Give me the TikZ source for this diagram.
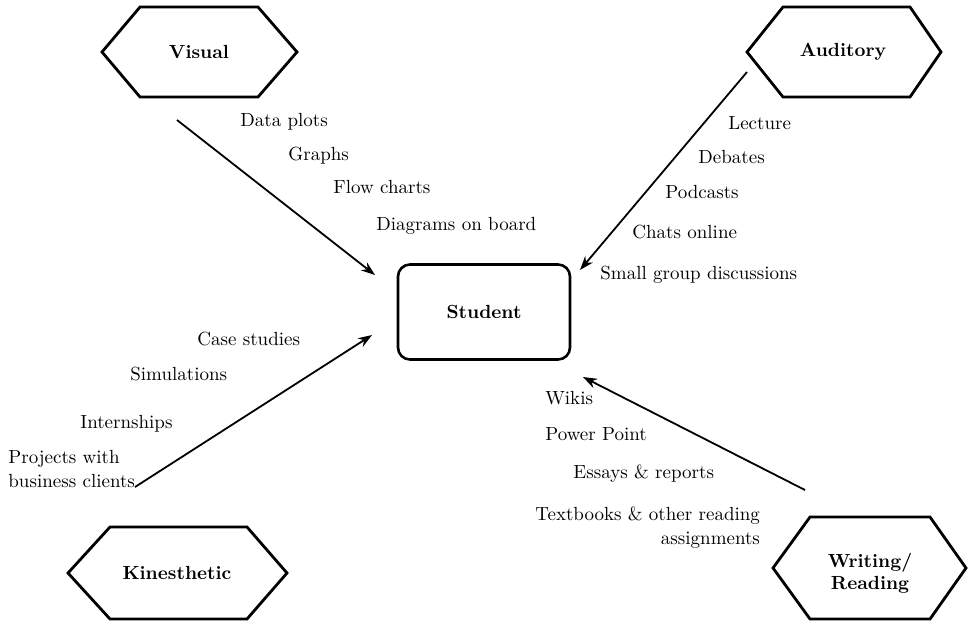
\documentclass[tikz,border=0pt]{standalone}
\usetikzlibrary{arrows.meta}
\begin{document}
\begin{tikzpicture}[x=0.5pt,y=-0.5pt,
  hexline/.style={line width=1.4pt,line join=miter},
  title/.style={font=\fontsize{9.5}{11}\selectfont\bfseries,align=center,inner sep=0pt},
  item/.style={font=\fontsize{9.5}{12}\selectfont,anchor=west,inner sep=0pt},
  conn/.style={line width=0.9pt,-{Stealth[length=7pt,width=5pt]}},
  studentbox/.style={draw,line width=1.3pt,rounded corners=6pt,minimum width=86pt,minimum height=47.5pt,font=\fontsize{9.5}{11}\selectfont\bfseries}]
\useasboundingbox (0,0) rectangle (968,623);
% Student
\node[studentbox] (stu) at (484,312) {Student};
% Hexagons
\draw[hexline] (102,52) -- (140,7) -- (258,7) -- (297,52) -- (258,97) -- (140,97) -- cycle;
\node[title] (vis) at (199,52) {Visual};
\draw[hexline] (747,52) -- (783,7) -- (910,7) -- (941,52) -- (910,97) -- (783,97) -- cycle;
\node[title] (aud) at (843,52) {Auditory};
\draw[hexline] (68,573) -- (110,527) -- (247,527) -- (287,573) -- (247,619) -- (110,619) -- cycle;
\node[title] (kin) at (177,573) {Kinesthetic};
\draw[hexline] (773,568) -- (810,517) -- (930,517) -- (966,568) -- (930,619) -- (810,619) -- cycle;
\node[title] (wri) at (870,573) {Writing/\\Reading};
% connector ends
\coordinate (vs) at (177,120);
\coordinate (ve) at (375,275);
\coordinate (as) at (747,72);
\coordinate (ae) at (580,270);
\coordinate (ks) at (135,487);
\coordinate (ke) at (372,335);
\coordinate (ws) at (805,490);
\coordinate (we) at (583,377);
\draw[conn] (vs) -- (ve);
\draw[conn] (as) -- (ae);
\draw[conn] (ks) -- (ke);
\draw[conn] (ws) -- (we);
% Visual items
\node[item] (v1) at (240,122) {Data plots};
\node[item] (v2) at (288,156) {Graphs};
\node[item] (v3) at (333,187) {Flow charts};
\node[item] (v4) at (376,226) {Diagrams on board};
% Auditory items
\node[item] (a1) at (728,123) {Lecture};
\node[item] (a2) at (698,157) {Debates};
\node[item] (a3) at (665,192) {Podcasts};
\node[item] (a4) at (632,232) {Chats online};
\node[item] (a5) at (600,275) {Small group discussions};
% Kinesthetic items
\node[item] (k1) at (197,339) {Case studies};
\node[item] (k2) at (130,374) {Simulations};
\node[item] (k3) at (80,424) {Internships};
\node[item,align=left] (k4) at (8,469) {Projects with\\business clients};
% Writing items
\node[item] (w1) at (545,398) {Wikis};
\node[item] (w2) at (545,434) {Power Point};
\node[item] (w3) at (573,474) {Essays \& reports};
\node[item,align=right] (w4) at (535,528) {Textbooks \& other reading\\assignments};
\end{tikzpicture}
\end{document}
